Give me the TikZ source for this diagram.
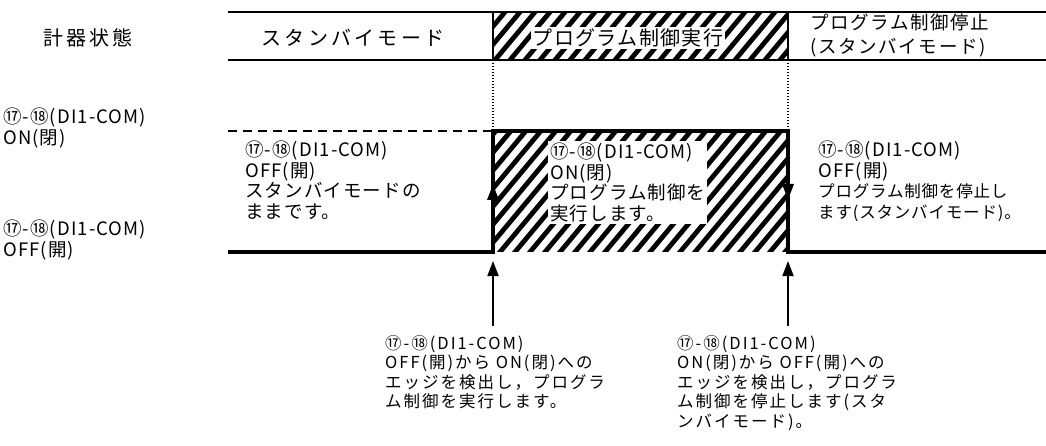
\documentclass[tikz,border=0pt]{standalone}
\usepackage{fontspec}
\setmainfont{Noto Sans CJK JP}
\usetikzlibrary{arrows.meta}

\tikzset{
  wave/.style={line width=3.2pt},
  frame/.style={line width=2pt},
  hatchline/.style={line width=4.8pt},
  txt/.style={inner sep=0pt, align=left, anchor=north west,
    font=\fontsize{18.5}{20.5}\selectfont\addfontfeature{LetterSpace=6}},
  small txt/.style={txt, font=\fontsize{16.5}{19.5}\selectfont\addfontfeature{LetterSpace=12}},
  head/.style={inner sep=0pt, font=\fontsize{20}{22}\selectfont\addfontfeature{LetterSpace=#1}},
  pointer/.style={line width=1.8pt, -{Triangle[length=15pt,width=11pt]}}
}

\begin{document}
\begin{tikzpicture}[x=1pt,y=-1pt]
\useasboundingbox (0,0) rectangle (1046,446);

% hatching of the running phase
\begin{scope}
  \clip (493,12) rectangle (788,60) (493,131) rectangle (788,252);
  \foreach \k in {250,265,...,800}
    \draw[hatchline] (\k,300) -- (\k+250,0);
\end{scope}

% header row
\draw[frame] (228,12) -- (1046,12);
\draw[frame] (228,60) -- (1046,60);
\draw[frame] (493,12) -- (493,60);
\draw[frame] (788,12) -- (788,60);
\node[head=14] (state) at (88,38) {計器状態};
\node[head=16] (standby) at (353,38) {スタンバイモード};
\node[head=7, fill=white, inner sep=2pt] (run) at (628,38) {プログラム制御実行};
\node[head=6, align=left, anchor=west, font=\fontsize{18.5}{24}\selectfont\addfontfeature{LetterSpace=9}] (stop) at (810,36) {プログラム制御停止\\(スタンバイモード)};

% signal
\draw[line width=1.3pt, dash pattern=on 1.5pt off 1.5pt] (493,60) -- (493,131);
\draw[line width=1.3pt, dash pattern=on 1.5pt off 1.5pt] (788,60) -- (788,131);
\draw[line width=1.8pt, dash pattern=on 9pt off 6pt] (228,131) -- (493,131);
\draw[wave] (228,252) -- (493,252) -- (493,131) -- (788,131) -- (788,252) -- (1046,252);
\draw[wave, -{Triangle[length=16pt,width=11pt]}] (493,215) -- (493,184);
\draw[wave, -{Triangle[length=16pt,width=11pt]}] (788,170) -- (788,200);

% level labels
\node[txt] (onlvl) at (3,108) {⑰-⑱(DI1-COM)\\ON(閉)};
\node[txt] (offlvl) at (3,220) {⑰-⑱(DI1-COM)\\OFF(開)};

% phase texts
\node[txt] (t1) at (245,141) {⑰-⑱(DI1-COM)\\OFF(開)\\スタンバイモードの\\ままです。};
\node[txt, fill=white, inner sep=2pt] (t2) at (548,141) {⑰-⑱(DI1-COM)\\ON(閉)\\プログラム制御を\\実行します。};
\node[txt] (t3) at (818,141) {⑰-⑱(DI1-COM)\\OFF(開)\\{\fontsize{16.5}{20.5}\selectfont\addfontfeature{LetterSpace=5}プログラム制御を停止し}\\{\fontsize{16.5}{20.5}\selectfont\addfontfeature{LetterSpace=5}ます(スタンバイモード)。}};

% edge pointers
\coordinate (riseEnd) at (493,326);
\coordinate (riseTip) at (493,261);
\coordinate (fallEnd) at (788,326);
\coordinate (fallTip) at (788,261);
\draw[pointer] (riseEnd) -- (riseTip);
\draw[pointer] (fallEnd) -- (fallTip);
\node[small txt] (rise) at (385,335) {⑰-⑱(DI1-COM)\\OFF(開)から ON(閉)への\\エッジを検出し，プログラ\\ム制御を実行します。};
\node[small txt] (fall) at (677,335) {⑰-⑱(DI1-COM)\\ON(閉)から OFF(開)への\\エッジを検出し，プログラ\\ム制御を停止します(スタ\\ンバイモード)。};
\end{tikzpicture}
\end{document}
